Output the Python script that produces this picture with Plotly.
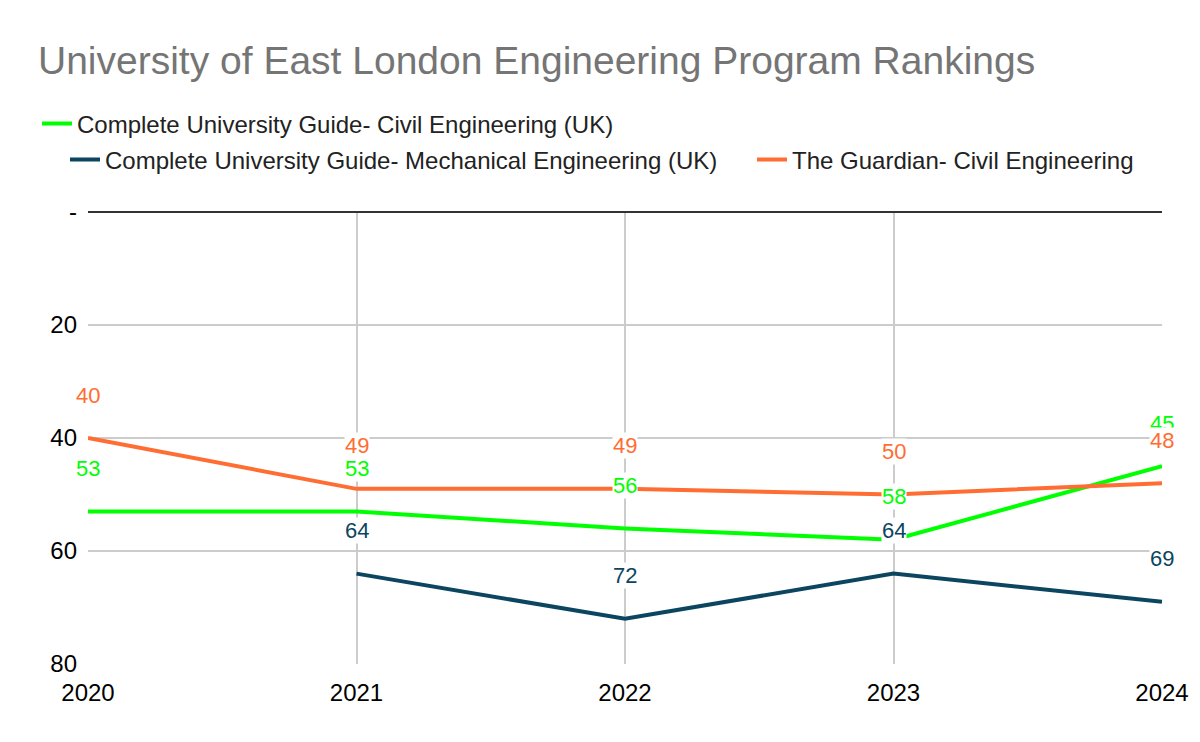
import plotly.graph_objects as go

years = [2020, 2021, 2022, 2023, 2024]
civil_cug = [53, 53, 56, 58, 45]
mech_cug = [None, 64, 72, 64, 69]
guardian_civil = [40, 49, 49, 50, 48]

names = ["Complete University Guide- Civil Engineering (UK)",
         "Complete University Guide- Mechanical Engineering (UK)",
         "The Guardian- Civil Engineering"]
colors = ["#00ff00", "#0b4560", "#ff6d33"]
series = [civil_cug, mech_cug, guardian_civil]
legends = ["legend", "legend2", "legend3"]

y_ticks = [0, 20, 40, 60, 80]
y_ticktext = ["-", "20", "40", "60", "80"]

L, R, T, B = 88, 38, 212, 78
W, H = 1200, 742
PW, PH = W - L - R, H - T - B

def px_x(px):
    return (px - L) / PW

def px_y(py):
    return (H - B - py) / PH

fig = go.Figure()
for name, col, vals, lg in zip(names, colors, series, legends):
    fig.add_trace(go.Scatter(x=years, y=vals, mode="lines", name=name,
                             line=dict(color=col, width=4), legend=lg,
                             connectgaps=False))

annotations = []
for col, vals in zip(colors, series):
    for x, v in zip(years, vals):
        if v is None:
            continue
        annotations.append(dict(x=x, y=v, xref="x", yref="y", text=str(v),
                                showarrow=False, yshift=43,
                                font=dict(family="Liberation Sans, Arial", size=22, color=col),
                                bgcolor="white", borderpad=0))

leg_common = dict(orientation="h", xanchor="left", yanchor="middle",
                  font=dict(size=24, color="#222222"), itemwidth=30,
                  bgcolor="rgba(0,0,0,0)")

fig.update_layout(
    width=W, height=H,
    margin=dict(l=L, r=R, t=T, b=B),
    paper_bgcolor="white", plot_bgcolor="white",
    title=dict(text="University of East London Engineering Program Rankings",
               x=38/W, xanchor="left", y=1-60/H, yanchor="middle",
               font=dict(family="Liberation Sans, Arial", size=39, color="#757575")),
    font=dict(family="Liberation Sans, Arial", size=24, color="#222222"),
    showlegend=True,
    legend=dict(x=px_x(37), y=px_y(124), **leg_common),
    legend2=dict(x=px_x(65), y=px_y(160), **leg_common),
    legend3=dict(x=px_x(752), y=px_y(160), **leg_common),
    annotations=annotations,
    xaxis=dict(range=[2020, 2024], tickvals=years, ticktext=[str(y) for y in years],
               showgrid=True, gridcolor="#cccccc", gridwidth=2,
               showline=False, zeroline=False, ticks="", ticklabelstandoff=12,
               tickfont=dict(size=24, color="#000000")),
    yaxis=dict(range=[80, 0], tickvals=y_ticks, ticktext=y_ticktext,
               showgrid=True, gridcolor="#cccccc", gridwidth=2,
               zeroline=True, zerolinecolor="#333333", zerolinewidth=2,
               showline=False, ticks="", ticklabelstandoff=10,
               tickfont=dict(size=24, color="#000000")),
)

fig.write_html("out.html")
